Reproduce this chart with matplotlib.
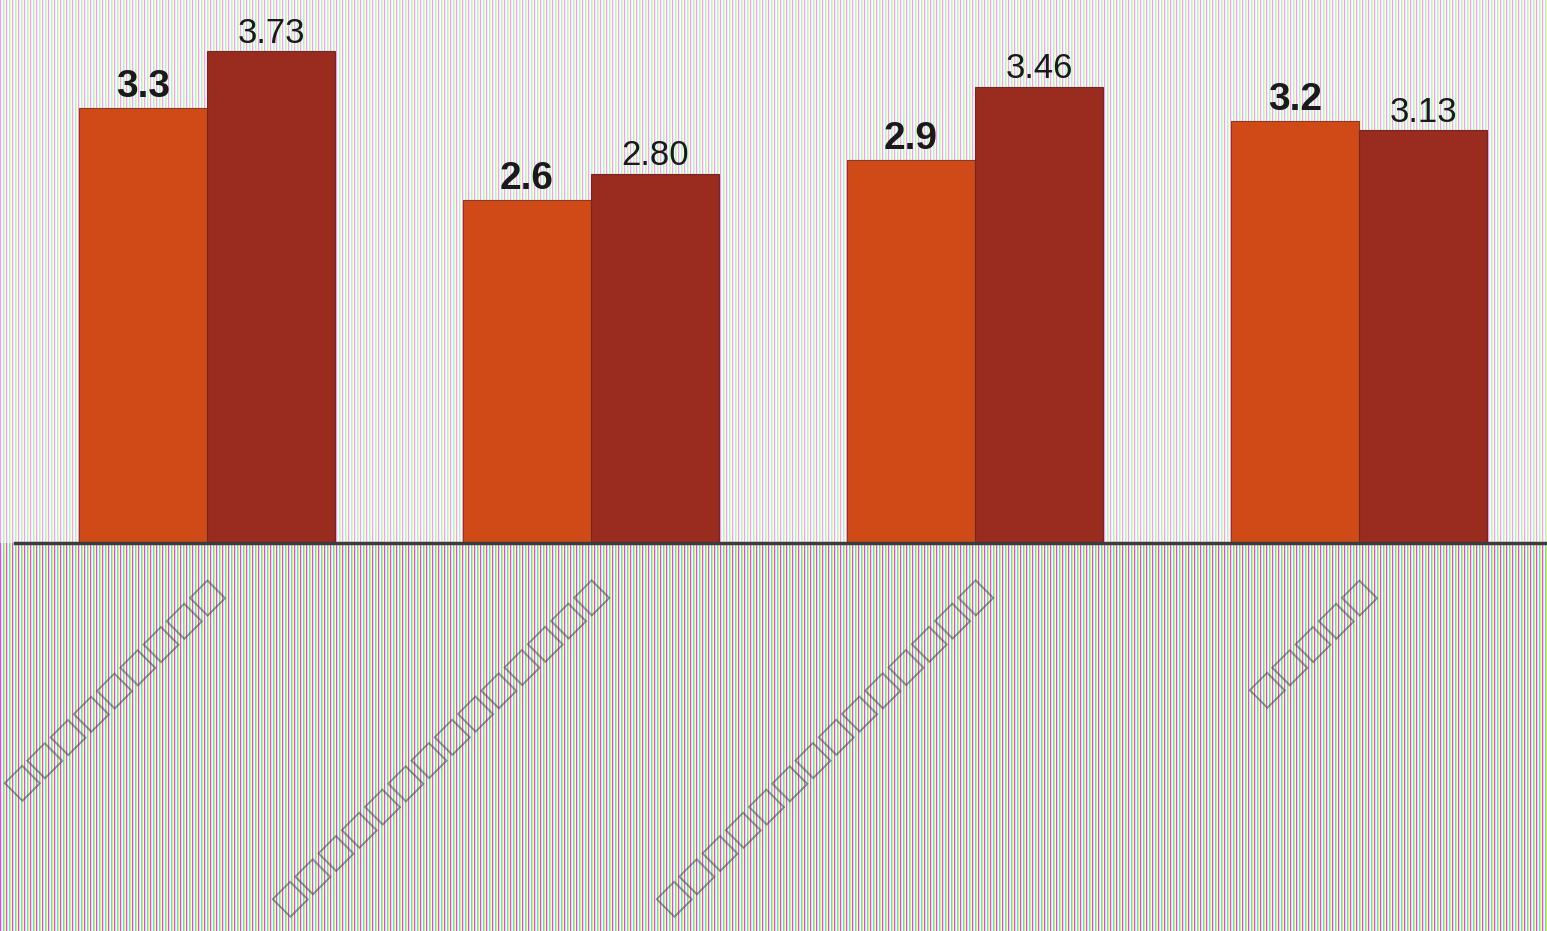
import numpy as np
import matplotlib
matplotlib.use("Agg")
import matplotlib.pyplot as plt

# ---- data ----
categories = ["□" * 9, "□" * 14, "□" * 14, "□" * 5]   # labels appear as missing-glyph boxes in the reference
series_a = [3.3, 2.6, 2.9, 3.2]
series_b = [3.73, 2.80, 3.46, 3.13]
labels_a = ["3.3", "2.6", "2.9", "3.2"]
labels_b = ["3.73", "2.80", "3.46", "3.13"]

color_a = "#D04A18"
color_b = "#992B1F"

W, H = 1547, 931
fig = plt.figure(figsize=(W / 100, H / 100), dpi=100)

# ---- striped background (decoration) ----
bg = fig.add_axes([0, 0, 1, 1], zorder=0)
stripe = np.array([
    [240, 40, 240],
    [245, 200, 235],
    [250, 250, 250],
    [40, 235, 230],
    [220, 240, 40],
    [250, 245, 235],
], dtype=float) / 255.0
cols = stripe[np.arange(W) % len(stripe)]
img = np.empty((H, W, 3))
base_y = 543
for r in range(H):
    k = 0.45 if r < base_y else 0.9
    img[r] = 1 - k * (1 - cols)
bg.imshow(img, aspect="auto", interpolation="nearest", extent=(0, W, H, 0))
bg.set_xlim(0, W)
bg.set_ylim(H, 0)
bg.axis("off")

# ---- chart ----
ax = fig.add_axes([15 / W, (H - base_y) / H, 1536 / W, base_y / H], zorder=1)
ax.patch.set_alpha(0)
x = np.arange(len(categories))
bw = 1 / 3
ax.bar(x - bw / 2, series_a, bw, color=color_a, edgecolor="#8a3a20", linewidth=0.8)
ax.bar(x + bw / 2, series_b, bw, color=color_b, edgecolor="#6e2a20", linewidth=0.8)
ax.set_xlim(-0.5, 3.5)
ax.set_ylim(0, base_y / 131.9)

for xi, v, t in zip(x - bw / 2, series_a, labels_a):
    ax.annotate(t, (xi, v), xytext=(0, 8), textcoords="offset points",
                ha="center", va="baseline", fontsize=28, fontweight="bold",
                family="Liberation Sans", color="#1a1a1a")
for xi, v, t in zip(x + bw / 2, series_b, labels_b):
    ax.annotate(t, (xi, v), xytext=(0, 6), textcoords="offset points",
                ha="center", va="baseline", fontsize=25,
                family="Liberation Sans", color="#1a1a1a")

for s in ["top", "left", "right"]:
    ax.spines[s].set_visible(False)
ax.spines["bottom"].set_color("#3c3c3c")
ax.spines["bottom"].set_linewidth(2.5)
ax.set_yticks([])
ax.set_xticks(x)
ax.set_xticklabels(categories, rotation=45, ha="right", rotation_mode="anchor",
                   fontsize=25, family="DejaVu Sans", color="#404040", alpha=0.55)
ax.tick_params(axis="x", length=0, pad=20)

fig.savefig("out.png", dpi=100)
